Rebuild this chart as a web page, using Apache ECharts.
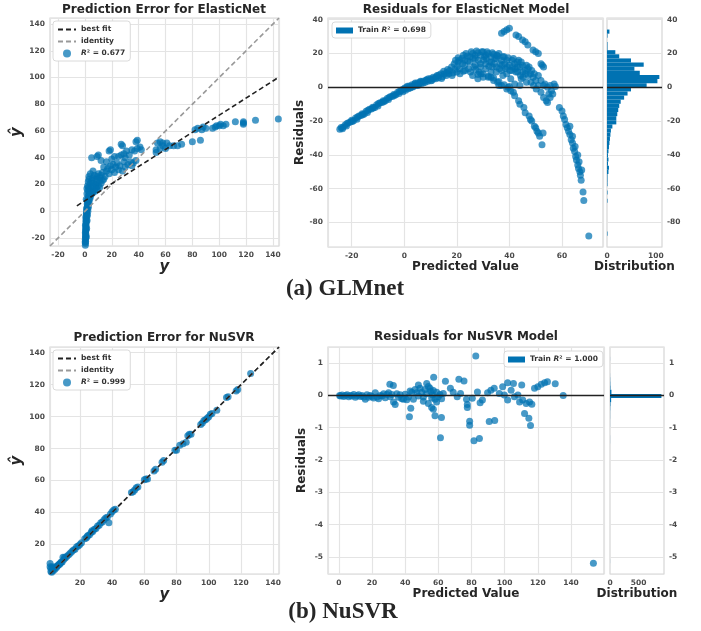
<!DOCTYPE html>
<html><head><meta charset="utf-8">
<script src="https://cdn.jsdelivr.net/npm/echarts@6/dist/echarts.min.js"></script>
<style>html,body{margin:0;padding:0;background:#fff}#c{width:701px;height:631px}</style>
</head><body><div id="c"></div><script>
// ---------- DATA ----------
// (a) ElasticNet: prediction error points [actual y, predicted y-hat]
const enPredErr = [
[0.3,-25.5],[0.4,-24],[0.5,-22.5],[0.3,-21],[0.6,-20],[0.4,-18.5],[0.7,-17],[0.5,-15.5],[0.8,-14],[0.6,-12.5],
[0.9,-11],[0.7,-9.5],[1.0,-8],[0.8,-6.5],[1.2,-5],[1.0,-3.5],[1.4,-2],[1.2,-0.5],[1.6,1],[1.4,2.5],
[1.9,4],[1.7,5.5],[2.3,7],[2.0,8.5],[2.8,10],[2.5,11.5],[3.2,12.5],[1.1,-19],[1.3,-13],[1.6,-7],
[1.9,-3],[2.2,0],[2.6,3],[3.0,6],[3.6,9],[4.2,11],[5,13],[6,14],[7.5,15],[9,16],[11,18],[1.0,9],
[1.5,13],[2.2,15.5],[3.5,16],[4.5,18],[6,19],[8,20],[2.5,22],[3,24],[4,21],[5,23],[6,25],[7,27],
[8,24],[9,26],[10,28],[11,25],[12,27],[13,29],[14,24],[15,26],[16,30],[17,32],[18,28],[19,34],
[20,31],[21,35],[22,29],[23,33],[24,36],[25,31],[26,34],[28,30],[29,37],[30,33],[32,35],[34,37],
[35,34],[36,36],[38,38],[30,40],[27,42],[25,41],[29,43],[31,45],[33,42],[35,46],[37,45],[39,47],
[41,48],[42,46],[38,52],[39,53],[28,49],[27,50],[19,46],[18,45],[10,42],[9,41],[5,40],[12,38],
[16,37],[20,39],[22,41],[14,33],[6,30],[4,28],[3,26],
[0.2,-23],[0.5,-19],[0.3,-16],[0.6,-13.5],[0.4,-10.5],[0.9,-7.5],[0.7,-4.5],[1.1,-1.5],[1.3,1.5],
[1.8,3],[2.1,6],[2.6,8],[3.3,10],[4,12.5],[5.5,14.5],[7,16],[8.5,18],[10,19],[12,21],[13,23],
[3.8,14],[2.8,18],[2,19],[1.5,17],[6.5,21],[9,22],[11,23],
[53,44],[53,46],[54,51],[56,52],[58,51],[61,51],[60,47],[63,49],[66,49],[69,49],[72,50],[56,47],
[58,49],[80,52],[86,53],[82,61],[84,62],[87,61],[88,63],[90,62],[95,62],[97,63],[98,64],[100,64],
[101,65],[103,64],[105,65],[112,67],[118,65],[118,67],[118,66],[127,68],[144,69]
];
const enBestFit = [[-6, 4], [144.5, 100.3]];
const enIdentity = [[-26, -26], [144.5, 144.5]];
const enR2Label = 'R² = 0.677';
// (a) ElasticNet residuals [predicted value, residual]
const enResiduals = [
[-24.5,-24.8],[-24,-23.8],[-23.3,-23.6],[-22.5,-22.3],[-22,-22.9],[-21.2,-21],[-20.5,-20.6],[-20,-19.5],
[-19.3,-19.8],[-18.5,-18.2],[-18,-18.9],[-17.2,-17],[-16.5,-16.7],[-16,-15.6],[-15.2,-15.8],[-14.5,-14.2],
[-14,-14.9],[-13.2,-13],[-12.5,-12.8],[-12,-11.8],[-11.2,-11.9],[-10.5,-10.3],[-10,-11],[-9.2,-9.2],
[-8.5,-9],[-8,-8],[-7.2,-8],[-6.5,-6.6],[-6,-7.2],[-5.2,-5.4],[-4.5,-5.5],[-4,-4.2],[-3.2,-4.4],
[-2.5,-3],[-2,-3.6],[-1.2,-2],[-0.5,-2.6],[0,-1],[0.5,-1.8],[1,0],[1.5,-0.8],[2,0.8],[2.5,0],[3,1.5],
[3.5,0.6],[4,2],[4.5,1.2],[5,2.6],[5.5,1.8],[6,3],[6.5,2.2],[7,3.6],[8,3],[8.5,4.5],[9,3.6],[10,5],
[10.5,4.2],[11,6],[12,5],[12.5,7],[13,5.6],[14,8],[14.5,6.2],[15,9.5],[16,7],[16.5,10.5],[17,8],[18,12],
[18.5,8.4],[19,14],[20,9],[20.5,15],[21,11],[22,17],[22.5,9.5],[23,13],[24,18.5],[24.5,11],[25,15],
[26,20],[26.5,12],[27,17],[28,20.5],[28.5,9],[29,14],[30,21],[30.5,18],[31,11],[32,20],[32.5,15],
[33,6],[33.5,12],[34,19.5],[34.5,17],[35,9],[35.5,3],[36,20],[36.5,14],[37,1],[37.5,7],[38,18],
[38.5,11],[39,16],[39.5,0],[40,13],[40.5,5],[41,16],[41.5,-3],[42,14],[42.5,9],[43,15],[43.5,-8],
[44,12],[44.5,5],[45,13],[45.5,-12],[46,10],[46.5,3],[47,11],[47.5,-17],[48,8],[48.5,-20],[49,6],
[49.5,-23],[50,4],[50.5,-26],[51,1],[51.5,-29],[52,-3],[52.4,-34],[52.8,-27],[53,-6],[53.5,2],[54,-8],
[54.5,0],[55,-4],[55.5,1],[56,-2],[57,2],[57.5,0.5],[54.5,-9],[55.5,-6],[56.5,-4],
[37,32],[38,33],[39,34],[40,35],[42.5,31],[43.5,30],[45,28],[46,27],[47,25],[49,22],[50,21],[51,20],
[52,14],[52.5,13],[53,12],
[21,16],[23,16],[25,18],[27,19],[29,19],[31,19],[33,18],[35,17],[37,16],[27,13],[29,12],[31,14],
[33,9],[35,12],[37,10],[39,8],[41,10],[43,12],[45,9],[44,-10],[46,-15],[48,-19],[50,-24],[51,-27],
[42,-5],[40.5,-2],[39,-1],[36,1],[34,4],[32,6],[30,6],[28,5],
[-23.5,-24.6],[-21.8,-21.4],[-19.8,-20.3],[-17.8,-17.6],[-15.8,-16.3],[-13.8,-13.6],[-11.8,-12.3],
[-9.8,-9.6],[-7.8,-8.6],[-5.8,-6],[-3.8,-4.9],[-1.8,-2.3],[-0.8,-1.5],[0.2,-0.4],[1.2,0.6],[2.2,-0.4],
[3.2,0.2],[4.2,2.6],[5.2,1.0],[6.2,3.6],[7.2,2.5],[8.2,4.2],[9.2,5],[10.2,3.8],[11.2,5.2],[12.2,6.3],
[13.2,7.2],[14.2,5.2],[15.2,7.8],[16.2,8.8],[17.2,10],[18.2,7],[19.2,10.5],[20.2,12.5],[21.2,8],
[22.2,14],[23.2,10],[24.2,15.5],[25.2,9],[26.2,17],[27.2,10.5],[28.2,16],[29.2,8],[30.2,16],[31.2,17],
[32.2,12.5],[33.2,15],[34.2,14],[35.2,19],[36.2,11],[37.2,13],[38.2,14],[39.2,12],[40.2,10],[41.2,12],
[42.2,11],[43.2,9],[44.2,7],[45.2,6],[46.2,8],[47.2,7],[48.2,3],[49.2,1],[50.2,-1],
[25.5,21],[27.5,21.5],[29.5,21],[31.5,21],[33.5,20.5],[35.5,18.5],[37.5,18],[39.5,17.5],[41.5,17],
[43.5,16],[44.5,15],[46.5,13],[47.5,12],[48.5,10],[49.5,8],[51,7],[52,4],[53,1],[22.5,19],[23.5,20],
[20.5,17.5],[19.5,16],[26,7],[28,7.5],[30,8],[32,6.5],[34,5.5],[36,3.5],[38,1.5],[40,0.5],[42,2],[44,1],
[59,-12],[60,-14],[60.5,-17],[61,-19],[61.5,-22],[62,-24],[62.5,-26],[63,-28],[63.5,-31],[64,-33],
[64.3,-36],[64.8,-38],[65.2,-41],[65.5,-43],[66,-46],[66.3,-48],[66.8,-50],[67,-52],[67.3,-55],
[68,-62],[68.3,-67],[70.2,-88],[63,-23],[64,-29],[65,-35],[66,-40],[66.5,-44],[67.5,-49]
];
const enTrainLabel = 'Train R² = 0.698';
// (a) residual histogram: first bin edge, bin width, counts
const enHistStart = -87.84;
const enHistWidth = 2.44;
const enHistCounts = [1,0,0,0,0,0,0,0,1,0,1,0,1,1,1,3,4,2,3,2,3,4,5,6,7,8,11,19,19,21,23,25,28,35,42,49,81,103,107,67,56,75,49,25,17,1,1,0,1,5];

// (b) NuSVR prediction error [actual y, predicted y-hat]
const nuPredErr = [
[1.5,8],[1.5,6],[2,3],[2,5],[2.5,2.5],[3,4],[3,6],[3.5,3.5],[4,5],[4.5,4.5],[5,6],[5.5,5.5],[6,6.5],
[6.5,7],[7,7.5],[7.5,7.5],[8,8.5],[8.5,9],[9,9],[9.5,12],[10,10.5],[10.5,12],[11,11.5],[12,12.5],
[13,13.5],[14,14.5],[15,15.5],[16,16.5],[17,17],[18,18.5],[19,19],[20,20],[21,21],[23,23.5],[24,24],
[24.5,25],[25,25.5],[26,26],[27,27.5],[27.5,28.5],[28,28],[29,29.5],[30,30],[31,31.5],[32,32],
[33,33.5],[34,34],[35,35.5],[36,36.5],[37,37],[38,33.5],[39,39],[40,40.5],[41,41.5],[42,42],
[52,52.5],[53,53],[54,54],[55,55.5],[56,56],[60,60.5],[61,61],[62,61],[66,66],[67,67],[71,71.5],
[72,72.5],[79,79],[80,79],[82,82],[84,83],[86,84],[87,88],[88,89],[89,89],[95,95],[96,96],[97,97.5],
[98,98],[99,99],[100,100],[101,101.5],[102,102],[105,104],[111,112],[112,112.5],[117,116],[118,117],
[126,127]
];
const nuBestFit = [[1.45, 1.45], [143.6, 143.6]];
const nuIdentity = [[1.45, 1.45], [143.6, 143.6]];
const nuR2Label = 'R² = 0.999';
// (b) NuSVR residuals [predicted value, residual]
const nuResiduals = [
[0.5,0],[1,-0.02],[2,0.01],[3,-0.03],[4,0],[5,0.02],[6,-0.04],[7,0],[8,-0.02],[9,0.03],[10,-0.06],
[11,-0.01],[12,0.02],[13,-0.03],[14,0],[15,-0.05],[16,-0.12],[17,0.02],[18,-0.06],[19,0],[20,-0.03],
[21,-0.08],[22,0.08],[23,-0.05],[24,-0.1],[25,0],[26,-0.02],[27,0.05],[28,-0.07],[29,0.03],[30,0.08],
[31,-0.04],[32,0.03],[33,-0.2],[34,-0.28],[35,0.05],[36,-0.06],[37,0.02],[38,-0.1],[39,-0.12],[40,0.04],
[41,-0.13],[42,-0.05],[43,0.14],[44,0.1],[45,-0.12],[46,0.18],[47,0.08],[48,-0.02],[49,0.22],[50,0.1],
[51,-0.05],[52,0.18],[53,0.05],[54,0.28],[55,0.22],[55.5,0.12],[56,-0.08],[56.5,0.02],[57,0.15],
[58,-0.12],[59,0.1],[60,-0.04],[61,0.03],[62,-0.1],[63,0.06],
[30.8,0.35],[32.9,0.31],[48,0.32],[53,0.37],[57.2,0.56],[64.3,0.44],[72.4,0.5],[75.5,0.45],[82.6,1.22],
[42.6,-0.66],[43.4,-0.4],[58,-0.63],[61.3,-1.31],[61.9,-0.68],[78.9,-0.8],[78.9,-0.92],[81.5,-1.4],
[84.8,-1.33],[90.7,-0.81],[94,-0.78],[101.8,0.39],[105.3,0.37],[110.3,0.32],[112,-0.56],[114.6,-0.71],
[115.6,-0.93],[118,0.22],[120,0.27],[122.1,0.35],[124.1,0.39],[125.8,0.42],[130.5,0.36],[135.3,0],
[153.5,-5.2],
[51,-0.18],[54,-0.25],[56,-0.37],[57,-0.43],[59,-0.2],[67.3,0.22],[69,0.1],[71.4,-0.04],[73.4,0.06],
[77,-0.12],[77.5,-0.28],[77.5,-0.37],[80.5,-0.09],[83.6,0.11],[85.2,-0.23],[86.6,-0.14],[89.7,0.08],
[91.7,0.16],[93.7,0.22],[96.8,0.06],[98.8,0.27],[99.8,0.01],[101.8,-0.14],[103.9,0.16],[105.9,-0.04],
[108,0.01],[109,-0.2],[110.9,-0.14],[113,-0.25],[115,-0.2],[116.4,-0.27]
];
const nuTrainLabel = 'Train R² = 1.000';
const nuHistStart = -5.2;
const nuHistWidth = 0.128;
const nuHistCounts = [1,0,0,0,0,0,0,0,0,0,0,0,0,0,0,0,0,0,0,0,0,0,0,0,0,0,0,0,0,1,1,0,0,1,1,2,2,4,8,20,900,25,8,5,3,1,0,0,0,1];

// ---------- STYLE ----------
const FONT = 'DejaVu Sans';
const BLUE = '#0072b2';
const GRID_LINE = '#e4e4e4';

const grids = [
  {left:50, top:18, width:229, height:228},   // A
  {left:328, top:18, width:275, height:229},  // B
  {left:607, top:18, width:55, height:229},   // C
  {left:50, top:347, width:229, height:227},  // D
  {left:328, top:347, width:276, height:227}, // E
  {left:610, top:347, width:54, height:227}   // F
].map(g => Object.assign({show:true, borderColor:'#d6d6d6', borderWidth:1.2, backgroundColor:'transparent', containLabel:false}, g));

function axis(o) {
  const base = {
    type:'value', axisLine:{show:false}, axisTick:{show:false},
    splitLine:{show:true, lineStyle:{color:GRID_LINE, width:1.2}},
    axisLabel:{color:'#4a4a4a', fontSize:7.5, fontWeight:'bold', fontFamily:FONT, margin:5,
      showMinLabel:o.showMin !== undefined ? o.showMin : false,
      showMaxLabel:o.showMax !== undefined ? o.showMax : false},
    nameLocation:'middle',
    nameTextStyle:Object.assign({color:'#262626', fontSize:12, fontWeight:'bold', fontFamily:FONT}, o.nameStyle || {})
  };
  const r = Object.assign(base, o);
  delete r.showMin; delete r.showMax; delete r.nameStyle;
  return r;
}
const yhatStyle = {fontSize:15, fontStyle:'italic'};
const yStyle = {fontSize:15, fontStyle:'italic'};

const xAxes = [
  axis({gridIndex:0, min:-26, max:144.5, splitNumber:8, name:'y', nameGap:13, nameStyle:yStyle}),
  axis({gridIndex:1, min:-29, max:75.6, splitNumber:5, name:'Predicted Value', nameGap:13}),
  axis({gridIndex:2, min:0, max:112.4, splitNumber:1, showMin:true, name:'Distribution', nameGap:13, splitLine:{show:false}}),
  axis({gridIndex:3, min:1.45, max:143.6, splitNumber:7, name:'y', nameGap:13, nameStyle:yStyle}),
  axis({gridIndex:4, min:-6.5, max:159.9, splitNumber:8, name:'Predicted Value', nameGap:13}),
  axis({gridIndex:5, min:0, max:945, splitNumber:2, showMin:true, name:'Distribution', nameGap:13, splitLine:{show:false}})
];
const yAxes = [
  axis({gridIndex:0, min:-26, max:144.5, splitNumber:8, name:'ŷ', nameGap:25, nameRotate:90, nameStyle:yhatStyle}),
  axis({gridIndex:1, min:-94.5, max:41, splitNumber:7, name:'Residuals', nameGap:20, nameRotate:90}),
  axis({gridIndex:2, min:-94.5, max:41, splitNumber:7, position:'right'}),
  axis({gridIndex:3, min:1.45, max:143.6, splitNumber:7, name:'ŷ', nameGap:25, nameRotate:90, nameStyle:yhatStyle}),
  axis({gridIndex:4, min:-5.53, max:1.5, splitNumber:7, name:'Residuals', nameGap:20, nameRotate:90}),
  axis({gridIndex:5, min:-5.53, max:1.5, splitNumber:7, position:'right'})
];

function dashLine(name, data, idx, color, z) {
  return {type:'line', name, data, xAxisIndex:idx, yAxisIndex:idx, symbol:'none', z:z, silent:true,
    lineStyle:{color, width:1.6, type:[5,3]}, itemStyle:{color}};
}
function scatter(name, data, idx, zeroLine) {
  const s = {type:'scatter', name, data, xAxisIndex:idx, yAxisIndex:idx, symbolSize:7, z:3,
    itemStyle:{color:BLUE, opacity:0.72}, silent:true};
  if (zeroLine) s.markLine = {silent:true, symbol:'none', label:{show:false}, animation:false,
    lineStyle:{color:'#222', width:1.3, type:'solid'}, data:[{yAxis:0}]};
  return s;
}
function hist(start, width, counts, idx) {
  const data = [];
  counts.forEach((c, k) => { if (c > 0) data.push([start + k * width, start + (k + 1) * width, c]); });
  return {type:'custom', xAxisIndex:idx, yAxisIndex:idx, data, encode:{x:2, y:[0,1]}, silent:true, clip:true,
    renderItem:(p, api) => {
      const a = api.coord([0, api.value(1)]);
      const b = api.coord([api.value(2), api.value(0)]);
      return {type:'rect', shape:{x:a[0], y:a[1], width:b[0]-a[0], height:b[1]-a[1]}, style:{fill:BLUE}};
    },
    markLine:{silent:true, symbol:'none', label:{show:false}, animation:false,
      lineStyle:{color:'#222', width:1.3, type:'solid'}, data:[{yAxis:0}]}
  };
}

const legendText = {fontSize:7.5, fontWeight:'bold', fontFamily:FONT, color:'#333', lineHeight:9,
  rich:{i:{fontSize:7.5, fontWeight:'bold', fontStyle:'italic', fontFamily:FONT, color:'#333'}}};
const fmt = n => n.trim().replace('R²', '{i|R}²');
function legend(extra) {
  return Object.assign({orient:'vertical', backgroundColor:'#fff', borderColor:'#d0d0d0', borderWidth:0.8,
    borderRadius:3, padding:[4,5,3,4], itemGap:3, itemWidth:18, itemHeight:8, textStyle:legendText,
    formatter:fmt, selectedMode:false}, extra);
}
const lineItem = n => ({name:n, itemStyle:{opacity:0}});

const titleFont = 'bold 12px "DejaVu Sans"';
const capFont = 'bold 23px "Liberation Serif"';
function txt(x, y, text, font) {
  return {type:'text', x, y, silent:true,
    style:{text, font, fill:'#262626', align:'center', verticalAlign:'middle', textAlign:'center', textVerticalAlign:'middle'}};
}

const option = {
  animation:false,
  backgroundColor:'#fff',
  textStyle:{fontFamily:FONT},
  grid:grids, xAxis:xAxes, yAxis:yAxes,
  legend:[
    legend({left:53, top:21, data:[lineItem('best fit'), lineItem('identity'), {name:enR2Label, icon:'circle'}]}),
    legend({left:53, top:350, data:[lineItem('best fit '), lineItem('identity '), {name:nuR2Label, icon:'circle'}]}),
    legend({left:332, top:22, orient:'horizontal', itemWidth:17, itemHeight:6, padding:[4,5,3,4],
      data:[{name:enTrainLabel, icon:'rect', itemStyle:{opacity:1}}]}),
    legend({left:504, top:351, orient:'horizontal', itemWidth:17, itemHeight:6, padding:[4,5,3,4],
      data:[{name:nuTrainLabel, icon:'rect', itemStyle:{opacity:1}}]})
  ],
  graphic:[
    txt(164, 10, 'Prediction Error for ElasticNet', titleFont),
    txt(466, 10, 'Residuals for ElasticNet Model', titleFont),
    txt(164, 338, 'Prediction Error for NuSVR', titleFont),
    txt(466, 337, 'Residuals for NuSVR Model', titleFont),
    txt(345, 289, '(a) GLMnet', capFont),
    txt(343, 612, '(b) NuSVR', capFont)
  ],
  series:[
    scatter(enR2Label, enPredErr, 0, false),
    dashLine('identity', enIdentity, 0, '#999999', 4),
    dashLine('best fit', enBestFit, 0, '#222222', 5),
    scatter(enTrainLabel, enResiduals, 1, true),
    hist(enHistStart, enHistWidth, enHistCounts, 2),
    scatter(nuR2Label, nuPredErr, 3, false),
    dashLine('identity ', nuIdentity, 3, '#999999', 4),
    dashLine('best fit ', nuBestFit, 3, '#222222', 5),
    scatter(nuTrainLabel, nuResiduals, 4, true),
    hist(nuHistStart, nuHistWidth, nuHistCounts, 5)
  ]
};
const chart = echarts.init(document.getElementById('c'), null, {renderer:'canvas'});
chart.setOption(option);
</script></body></html>
